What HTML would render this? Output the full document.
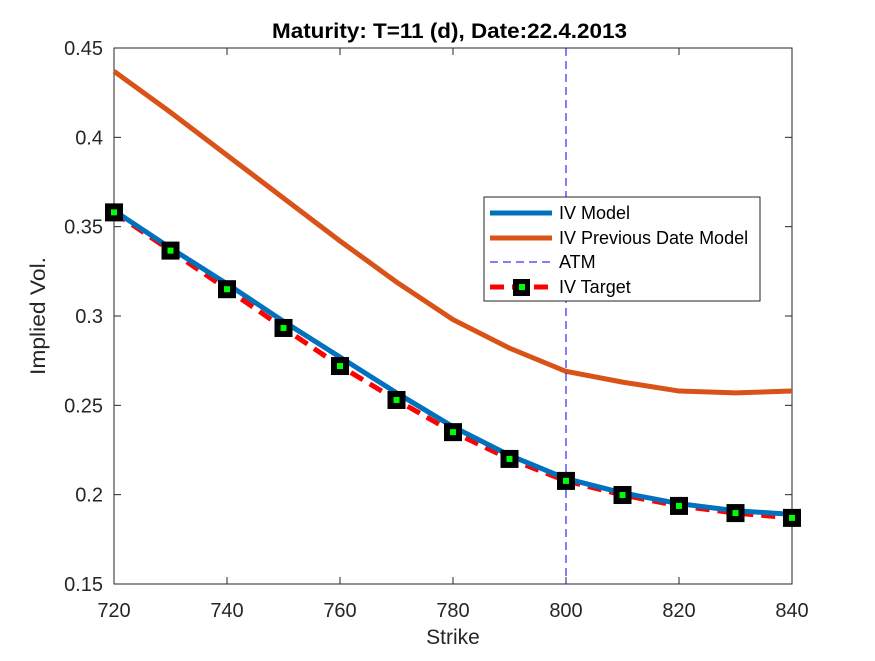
<!DOCTYPE html>
<html><head><meta charset="utf-8"><style>
body{margin:0;background:#fff;}
svg text{font-family:"Liberation Sans",Arial,sans-serif;}
</style></head><body>
<svg id="chart" width="875" height="656" viewBox="0 0 875 656">
<rect width="875" height="656" fill="#fff"/>
<rect x="114" y="48" width="678" height="536" fill="#fff" stroke="#262626" stroke-width="1"/>
<g id="ticks"></g>
<g id="series"></g>
<text x="272" y="38" font-size="21" font-weight="bold" textLength="355" lengthAdjust="spacingAndGlyphs" fill="#000">Maturity: T=11 (d), Date:22.4.2013</text>
<text x="453" y="644" font-size="21" text-anchor="middle" fill="#262626">Strike</text>
<text transform="translate(45,316) rotate(-90)" font-size="21" text-anchor="middle" textLength="118" lengthAdjust="spacingAndGlyphs" fill="#262626">Implied Vol.</text>
<g>
<rect x="484" y="197" width="276" height="104" fill="#fff" stroke="#262626" stroke-width="1"/>
<g><line x1="490" y1="213" x2="552" y2="213" stroke="#0072BD" stroke-width="5"/><text x="559" y="219" font-size="18" fill="#000">IV Model</text></g>
<g><line x1="490" y1="238" x2="552" y2="238" stroke="#D95319" stroke-width="5"/><text x="559" y="244" font-size="18" fill="#000">IV Previous Date Model</text></g>
<g><line x1="490" y1="262" x2="552" y2="262" stroke="#0000FF" stroke-width="1" stroke-dasharray="8,5"/><text x="559" y="268" font-size="18" fill="#000">ATM</text></g>
<g><line x1="490" y1="287" x2="552" y2="287" stroke="#FF0000" stroke-width="5" stroke-dasharray="14,8"/><rect x="513" y="279" width="17" height="17" fill="#000"/><rect x="519" y="284" width="6" height="6" fill="#00FF00"/><text x="559" y="293" font-size="18" fill="#000">IV Target</text></g>
</g>
</svg>
<script>
const strikes=[720,730,740,750,760,770,780,790,800,810,820,830,840];
const ivModel=[0.359,0.338,0.318,0.297,0.277,0.257,0.238,0.222,0.209,0.201,0.195,0.191,0.189];
const ivPrev=[0.437,0.414,0.390,0.366,0.342,0.319,0.298,0.282,0.269,0.263,0.258,0.257,0.258];
const ivTarget=[0.358,0.3366,0.315,0.2933,0.272,0.253,0.235,0.220,0.2077,0.1998,0.1937,0.1897,0.187];
const atmStrike=800;
const xTicks=[720,740,760,780,800,820,840];
const yTicks=[0.15,0.2,0.25,0.3,0.35,0.4,0.45];
const yTickLabels=["0.15","0.2","0.25","0.3","0.35","0.4","0.45"];
const NS="http://www.w3.org/2000/svg";
const X=v=>114+(v-720)/120*678;
const Y=v=>584-(v-0.15)/0.3*536;
const tg=document.getElementById('ticks'),sg=document.getElementById('series');
function mk(t,a,p){const e=document.createElementNS(NS,t);for(const k in a)e.setAttribute(k,a[k]);p.appendChild(e);return e;}
xTicks.forEach(v=>{
 let l=mk('line',{x1:X(v),x2:X(v),y1:584,y2:577,stroke:'#262626'},tg);
 
 
 mk('line',{x1:X(v),x2:X(v),y1:48,y2:55,stroke:'#262626'},tg);
 let t=mk('text',{x:X(v),y:617,'font-size':20,'text-anchor':'middle',fill:'#262626'},tg);t.textContent=v;
 
 
});
yTicks.forEach((v,i)=>{
 let l=mk('line',{x1:114,x2:121,y1:Y(v),y2:Y(v),stroke:'#262626'},tg);
 
 
 mk('line',{x1:785,x2:792,y1:Y(v),y2:Y(v),stroke:'#262626'},tg);
 let t=mk('text',{x:103,y:Y(v)+7,'font-size':20,'text-anchor':'end',fill:'#262626'},tg);t.textContent=yTickLabels[i];
 
 
});
const pts=a=>a.map((v,i)=>X(strikes[i])+','+Y(v)).join(' ');
let prev=mk('polyline',{points:pts(ivPrev),fill:'none',stroke:'#D95319','stroke-width':5},sg);


let tl=mk('polyline',{points:pts(ivTarget),fill:'none',stroke:'#FF0000','stroke-width':5,'stroke-dasharray':'14,8'},sg);


let ml=mk('polyline',{points:pts(ivModel),fill:'none',stroke:'#0072BD','stroke-width':5},sg);


let atm=mk('line',{x1:X(atmStrike),x2:X(atmStrike),y1:48,y2:584,stroke:'#0000FF','stroke-width':1,'stroke-dasharray':'8,5'},sg);


ivTarget.forEach((v,i)=>{
 let g=mk('g',{},sg);
 
 
 mk('rect',{x:X(strikes[i])-9,y:Y(v)-9,width:18,height:18,fill:'#000'},g);
 mk('rect',{x:X(strikes[i])-3,y:Y(v)-3,width:6,height:6,fill:'#00FF00'},g);
});
</script>
</body></html>
